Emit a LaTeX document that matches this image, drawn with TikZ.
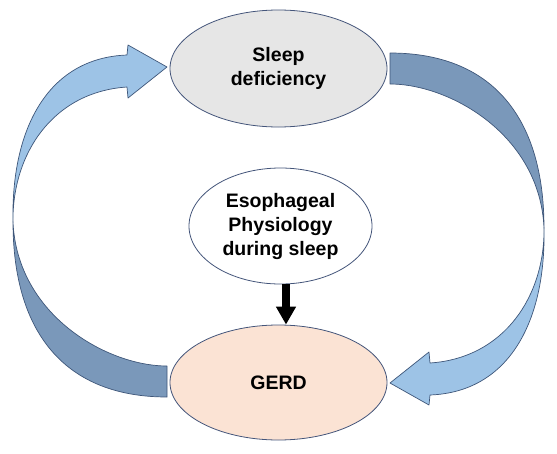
\documentclass[tikz,border=0pt]{standalone}
\usepackage{fontspec}
\setmainfont{Liberation Sans}
\usetikzlibrary{shapes.geometric,arrows.meta}
\definecolor{bandDark}{HTML}{7A98BA}
\definecolor{bandLight}{HTML}{9DC3E6}
\definecolor{bandEdge}{HTML}{3E5679}
\definecolor{ovalEdge}{HTML}{44557A}
\definecolor{sleepFill}{HTML}{E6E6E6}
\definecolor{gerdFill}{HTML}{FBE3D4}
\tikzset{
  oval/.style={ellipse, draw=ovalEdge, line width=0.8pt, align=center,
    font=\fontsize{19.5}{24}\selectfont\bfseries, inner sep=0pt},
  darkband/.style={fill=bandDark, draw=bandEdge, line width=0.7pt, line join=round},
  lightband/.style={fill=bandLight, draw=bandEdge, line width=0.7pt, line join=round},
  blackarrow/.style={line width=8pt, -{Triangle[width=19pt,length=18pt]}}
}
\newcommand{\curvedband}{%
  \path[darkband] (390,53) .. controls (490,53) and (544,115) .. (544,228)
     .. controls (540,135) and (450,84) .. (390,84) -- cycle;
  \path[lightband] (544,228) .. controls (546,320) and (510,392) .. (430,395)
     -- (429,405) -- (390,383) -- (429,352) -- (430,363)
     .. controls (505,358) and (545,295) .. (544,228) -- cycle;
}
\begin{document}
\begin{tikzpicture}[x=1pt,y=-1pt]
\useasboundingbox (0,0) rectangle (557,453);
% right curved arrow (Sleep deficiency -> GERD)
\curvedband
% left curved arrow (GERD -> Sleep deficiency)
\begin{scope}[rotate around={180:(278.5,225)}]
\curvedband
\end{scope}
\node[oval, fill=sleepFill, minimum width=217pt, minimum height=117pt] (sleep) at (278.5,68.5) {Sleep\\deficiency};
\node[oval, fill=white, minimum width=183pt, minimum height=116pt] (esoph) at (280.5,226) {Esophageal\\Physiology\\during sleep};
\node[oval, fill=gerdFill, minimum width=217pt, minimum height=115pt] (gerd) at (278.5,382.5) {GERD};
\coordinate (ax) at (286,0);
\draw[blackarrow] (esoph.south -| ax) -- (gerd.north -| ax);
\end{tikzpicture}
\end{document}
